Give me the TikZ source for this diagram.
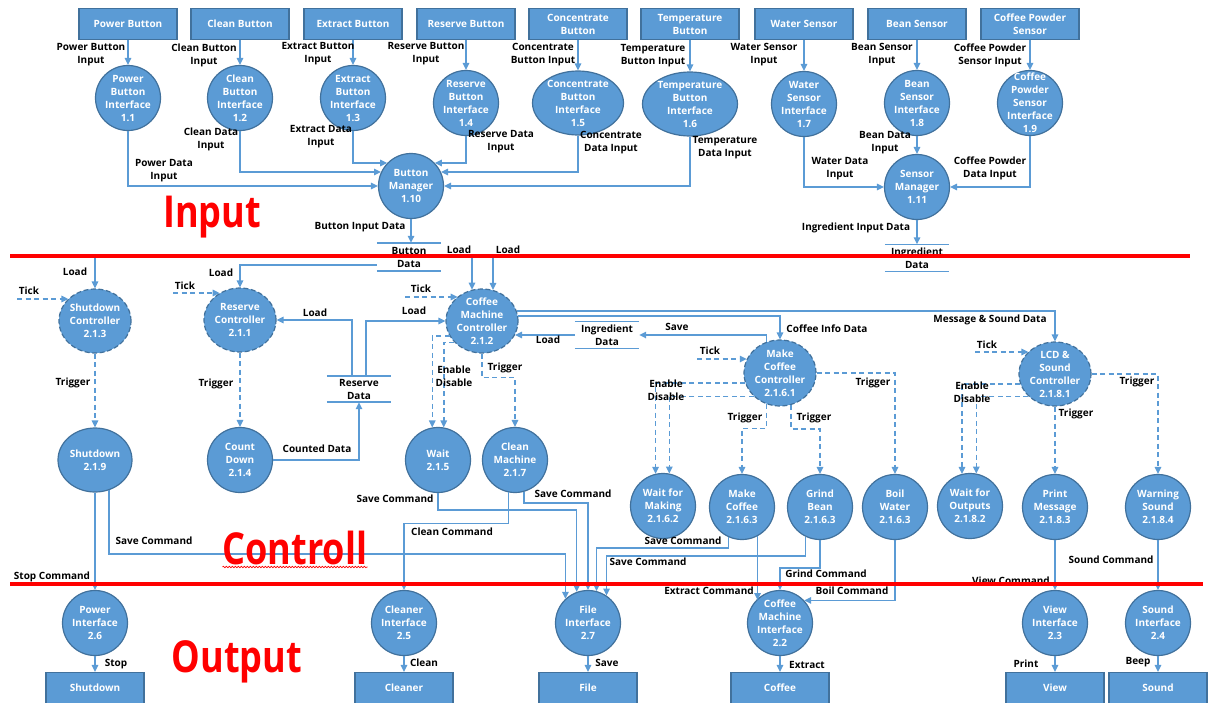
\documentclass[tikz,border=0pt]{standalone}
\usepackage{fontspec}
\setmainfont{Open Sans}
\usetikzlibrary{shapes.geometric,arrows.meta,decorations.pathmorphing}
\definecolor{nblue}{HTML}{5B9BD5}
\definecolor{dblue}{HTML}{41719C}
\newcommand\dfdfont{\bfseries\fontsize{10}{13}\selectfont}
\newcommand\dfdbig{\bfseries\fontsize{44}{44}\selectfont}
\newcommand\mylab[3]{\node[lab] (#1) at (#2) {#3};}
\tikzset{
  ext/.style={rectangle, fill=nblue, draw=dblue, line width=1.2pt, text=white, font=\dfdfont,
    align=center, minimum width=98pt, minimum height=31pt, inner sep=0pt},
  ptext/.style={text=white, font=\dfdfont, align=center, inner sep=0pt},
  proc/.style={ellipse, fill=nblue, draw=dblue, line width=1.2pt, minimum width=65pt,
    minimum height=65pt, inner sep=0pt, label={[ptext]center:{#1}}},
  ctrl/.style={proc={#1}, dash pattern=on 5pt off 2.5pt, minimum width=72pt, minimum height=64pt},
  storeline/.style={draw=nblue, line width=1.5pt},
  store/.style={inner sep=0pt, minimum width=64pt, minimum height=27pt, font=\dfdfont, align=center,
    append after command={
      (\tikzlastnode.north west) edge[storeline] (\tikzlastnode.north east)
      (\tikzlastnode.south west) edge[storeline] (\tikzlastnode.south east)}},
  flow/.style={draw=nblue, line width=1.5pt, -{Triangle[length=7pt,width=6.5pt]}},
  dflow/.style={flow, dash pattern=on 5pt off 3.5pt},
  lab/.style={font=\dfdfont, align=center, inner sep=0pt, text=black},
  big/.style={font=\dfdbig, text=red, inner sep=0pt, anchor=base},
  redline/.style={draw=red, line width=3.5pt}
}
\begin{document}
\begin{tikzpicture}[x=1pt,y=-1pt]
\useasboundingbox (0,0) rectangle (1208,702);

% ---------- Input section ----------
\node[ext] (pb)  at (128,24) {Power Button};
\node[ext] (cb)  at (240,24) {Clean Button};
\node[ext] (eb)  at (353,24) {Extract Button};
\node[ext] (rb)  at (466,24) {Reserve Button};
\node[ext] (cob) at (578,24) {Concentrate\\Button};
\node[ext] (tb)  at (690,24) {Temperature\\Button};
\node[ext] (ws)  at (804,24) {Water Sensor};
\node[ext] (bs)  at (917,24) {Bean Sensor};
\node[ext] (cps) at (1030,24) {Coffee Powder\\Sensor};

\node[proc={Power\\Button\\Interface\\1.1}] (pbi) at (128,98) {};
\node[proc={Clean\\Button\\Interface\\1.2}] (cbi) at (240,98) {};
\node[proc={Extract\\Button\\Interface\\1.3}] (ebi) at (353,98) {};
\node[proc={Reserve\\Button\\Interface\\1.4}] (rbi) at (466,103) {};
\node[proc={Concentrate\\Button\\Interface\\1.5}, minimum width=91pt, minimum height=64pt] (cobi) at (578,103) {};
\node[proc={Temperature\\Button\\Interface\\1.6}, minimum width=95pt, minimum height=64pt] (tbi) at (690,104) {};
\node[proc={Water\\Sensor\\Interface\\1.7}] (wsi) at (804,104) {};
\node[proc={Bean\\Sensor\\Interface\\1.8}] (bsi) at (917,103) {};
\node[proc={Coffee\\Powder\\Sensor\\Interface\\1.9}] (cpsi) at (1030,103) {};

\node[proc={Button\\Manager\\1.10}] (bm) at (411,186) {};
\node[proc={Sensor\\Manager\\1.11}] (sm) at (917,187) {};

\node[store, minimum height=28pt] (bd) at (409,257) {Button\\Data};
\node[store] (ind1) at (917,258) {Ingredient\\Data};

\draw[flow] (pb) -- (pbi);
\draw[flow] (cb) -- (cbi);
\draw[flow] (eb) -- (ebi);
\draw[flow] (rb) -- (rbi);
\draw[flow] (cob) -- (cobi);
\draw[flow] (tb) -- (tbi);
\draw[flow] (ws) -- (wsi);
\draw[flow] (bs) -- (bsi);
\draw[flow] (cps) -- (cpsi);

\draw[flow] (pbi) |- (bm);
\draw[flow] (cbi) |- (bm.155);
\draw[flow] (ebi) |- (bm.136);
\draw[flow] (rbi) |- (bm.44);
\draw[flow] (cobi) |- (bm.25);
\draw[flow] (tbi) |- (bm);
\draw[flow] (wsi) |- (sm);
\draw[flow] (bsi) -- (sm);
\draw[flow] (cpsi) |- (sm);
\draw[flow] (bm) -- (bm |- bd.north);
\draw[flow] (sm) -- (ind1.north);

\mylab{l01}{91,55}{Power Button\\Input}
\mylab{l02}{204,55}{Clean Button\\Input}
\mylab{l03}{318,54}{Extract Button\\Input}
\mylab{l04}{426,54}{Reserve Button\\Input}
\mylab{l05}{543,55}{Concentrate\\Button Input}
\mylab{l06}{653,56}{Temperature\\Button Input}
\mylab{l07}{764,55}{Water Sensor\\Input}
\mylab{l08}{882,55}{Bean Sensor\\Input}
\mylab{l09}{990,55}{Coffee Powder\\Sensor Input}
\mylab{l10}{164,171}{Power Data\\Input}
\mylab{l11}{211,139}{Clean Data\\Input}
\mylab{l12}{321,137}{Extract Data\\Input}
\mylab{l13}{501,142}{Reserve Data\\Input}
\mylab{l14}{611,143}{Concentrate\\Data Input}
\mylab{l15}{725,148}{Temperature\\Data Input}
\mylab{l16}{840,169}{Water Data\\Input}
\mylab{l17}{885,143}{Bean Data\\Input}
\mylab{l18}{990,168}{Coffee Powder\\Data Input}
\mylab{l19}{360,227}{Button Input Data}
\mylab{l20}{856,228}{Ingredient Input Data}

% ---------- Control section ----------
\node[ctrl={Shutdown\\Controller\\2.1.3}] (sc) at (95,321) {};
\node[ctrl={Reserve\\Controller\\2.1.1}] (rc) at (240,320) {};
\node[ctrl={Coffee\\Machine\\Controller\\2.1.2}] (cmc) at (482,321) {};
\node[ctrl={Make\\Coffee\\Controller\\2.1.6.1}, minimum height=66pt] (mcc) at (780,373) {};
\node[ctrl={LCD \&\\Sound\\Controller\\2.1.8.1}] (lsc) at (1055,374) {};

\node[store, minimum height=26pt] (rd) at (359,389) {Reserve\\Data};
\node[store] (ind2) at (607,335) {Ingredient\\Data};

\node[proc={Shutdown\\2.1.9}, minimum width=74pt, minimum height=64pt] (sd) at (95,460) {};
\node[proc={Count\\Down\\2.1.4}] (cd) at (240,460) {};
\node[proc={Wait\\2.1.5}] (wt) at (438,460) {};
\node[proc={Clean\\Machine\\2.1.7}] (cm) at (515,460) {};
\node[proc={Wait for\\Making\\2.1.6.2}] (wfm) at (663,506) {};
\node[proc={Make\\Coffee\\2.1.6.3}] (mc) at (742,507) {};
\node[proc={Grind\\Bean\\2.1.6.3}] (gb) at (820,507) {};
\node[proc={Boil\\Water\\2.1.6.3}] (bw) at (895,507) {};
\node[proc={Wait for\\Outputs\\2.1.8.2}] (wfo) at (970,506) {};
\node[proc={Print\\Message\\2.1.8.3}] (pm) at (1055,507) {};
\node[proc={Warning\\Sound\\2.1.8.4}] (wsd) at (1158,507) {};

\coordinate (sdload) at (95,257);
\coordinate (tk1) at (17,299);
\coordinate (tk2) at (173,293);
\coordinate (tk3) at (405,297);
\coordinate (tk4) at (697,359);
\coordinate (tk5) at (975,352);
\coordinate (ld1) at (472,258);
\coordinate (ld2) at (493,258);

\draw[flow] (sdload) -- (sc);
\draw[dflow] (tk1) -- (tk1 -| sc.140);
\draw[flow] ([yshift=-8pt]bd.west) -| (rc);
\draw[dflow] (tk2) -- (tk2 -| rc.127);
\draw[flow] ([xshift=-7pt]rd.north) |- (rc);
\draw[flow] ([xshift=7pt]rd.north) |- (cmc);
\draw[flow] (cd) -| (rd);
\draw[dflow] (sc) -- (sd);
\draw[dflow] (rc) -- (cd);
\draw[flow] (ld1) -- (ld1 |- cmc.108);
\draw[flow] (ld2) -- (ld2 |- cmc.70);
\draw[dflow] (tk3) -- (tk3 -| cmc.135);
\draw[flow] (cmc.8) -| (mcc);
\draw[flow] (cmc.16) -| (lsc);
\draw[flow] (mcc.113) |- (ind2);
\draw[flow] (ind2) -- (ind2.west -| cmc.337);
\draw[dflow] (cmc.205) -| (wt.100);
\draw[dflow] (cmc.218) -| (wt.80);
\draw[dflow] (cmc.south) -- ++(0,24) -| (cm);

\draw[dflow] (tk4) -- (tk4 -| mcc.157);
\draw[dflow] (mcc.196) -| (wfm.103);
\draw[dflow] (mcc.222) -| (wfm.79);
\draw[dflow] (mcc) -| (bw);
\draw[dflow] (mcc.247) -- ++(0,24) -| (mc);
\draw[dflow] (mcc.289) -- ++(0,24) -| (gb);

\draw[dflow] (tk5) -- (tk5 -| lsc.140);
\draw[dflow] (lsc.196) -| (wfo.104);
\draw[dflow] (lsc.220) -| (wfo.79);
\draw[dflow] (lsc) -| (wsd);
\draw[dflow] (lsc) -- (pm);

\mylab{c01}{75,272}{Load}
\mylab{c02}{29,291}{Tick}
\mylab{c03}{221,273}{Load}
\mylab{c04}{185,286}{Tick}
\mylab{c05}{315,313}{Load}
\mylab{c06}{414,311}{Load}
\mylab{c07}{459,250}{Load}
\mylab{c08}{508,250}{Load}
\mylab{c09}{421,289}{Tick}
\mylab{c10}{73,383}{Trigger}
\mylab{c11}{216,384}{Trigger}
\mylab{c12}{317,449}{Counted Data}
\mylab{c13}{454,376}{Enable\\Disable}
\mylab{c14}{505,368}{Trigger}
\mylab{c15}{548,340}{Load}
\mylab{c16}{677,327}{Save}
\mylab{c17}{827,329}{Coffee Info Data}
\mylab{c18}{990,320}{Message \& Sound Data}
\mylab{c19}{710,351}{Tick}
\mylab{c20}{666,390}{Enable\\Disable}
\mylab{c21}{873,383}{Trigger}
\mylab{c22}{745,418}{Trigger}
\mylab{c23}{814,418}{Trigger}
\mylab{c24}{987,345}{Tick}
\mylab{c25}{972,392}{Enable\\Disable}
\mylab{c26}{1137,382}{Trigger}
\mylab{c27}{1076,414}{Trigger}

% ---------- Output section ----------
\node[proc={Power\\Interface\\2.6}] (pi) at (95,623) {};
\node[proc={Cleaner\\Interface\\2.5}] (ci) at (404,623) {};
\node[proc={File\\Interface\\2.7}] (fi) at (588,623) {};
\node[proc={Coffee\\Machine\\Interface\\2.2}] (cmi) at (780,623) {};
\node[proc={View\\Interface\\2.3}] (vi) at (1055,623) {};
\node[proc={Sound\\Interface\\2.4}] (si) at (1158,623) {};

\node[ext] (sdb) at (95,688) {Shutdown};
\node[ext] (clb) at (404,688) {Cleaner};
\node[ext] (fb)  at (588,688) {File};
\node[ext] (cfb) at (780,688) {Coffee};
\node[ext] (vb)  at (1055,688) {View};
\node[ext] (sb)  at (1158,688) {Sound};

\draw[flow] (wt.south) -- ++(0,17) -| (fi.110);
\draw[flow] (cm.286) -- ++(0,11) -| (fi.north);
\draw[flow] (cm.259) -- ++(0,31) -| (ci);
\draw[flow] (sd.295) -- ++(0,64) -| (fi.133);
\draw[flow] (sd) -- (pi);
\draw[flow] (mc.246) -- ++(0,11) -| (fi.75);
\draw[flow] (gb.244) -- ++(0,19) -| (fi.56);
\draw[flow] (gb.south) -- ++(0,28) -| (cmi);
\draw[flow] (mc.298) -- (mc.298 |- cmi.136);
\draw[flow] (bw) |- (cmi.43);
\draw[flow] (pm) -- (vi);
\draw[flow] (wsd) -- (si);

\draw[flow] (pi) -- (sdb);
\draw[flow] (ci) -- (clb);
\draw[flow] (fi) -- (fb);
\draw[flow] (cmi) -- (cfb);
\draw[flow] (vi) -- (vb);
\draw[flow] (si) -- (sb);

\mylab{o01}{395,499}{Save Command}
\mylab{o02}{573,494}{Save Command}
\mylab{o03}{452,532}{Clean Command}
\mylab{o04}{154,541}{Save Command}
\mylab{o05}{52,577}{Stop Command}
\mylab{o06}{683,541}{Save Command}
\mylab{o07}{648,562}{Save Command}
\mylab{o08}{826,574}{Grind Command}
\mylab{o09}{709,591}{Extract Command}
\mylab{o10}{852,591}{Boil Command}
\mylab{o11}{1011,581}{View Command}
\mylab{o12}{1111,560}{Sound Command}
\mylab{o13}{116,664}{Stop}
\mylab{o14}{424,663}{Clean}
\mylab{o15}{607,663}{Save}
\mylab{o16}{807,665}{Extract}
\mylab{o17}{1026,664}{Print}
\mylab{o18}{1138,662}{Beep}

% ---------- section titles and red dividers ----------
\node[big] (tin) at (212,227) {\scalebox{0.82}[1]{Input}};
\node[big] (tctl) at (295,564) {\scalebox{0.82}[1]{Controll}};
\node[big] (tout) at (237,672) {\scalebox{0.82}[1]{Output}};
\draw[red, line width=0.6pt, decorate, decoration={snake, amplitude=0.8pt, segment length=3pt}]
  (tctl.base west) ++(0,3) -- (tctl.base east |- 0,567);
\draw[redline] (10,256) -- (1190,256);
\draw[redline] (10,584) -- (1203,584);
\end{tikzpicture}
\end{document}
